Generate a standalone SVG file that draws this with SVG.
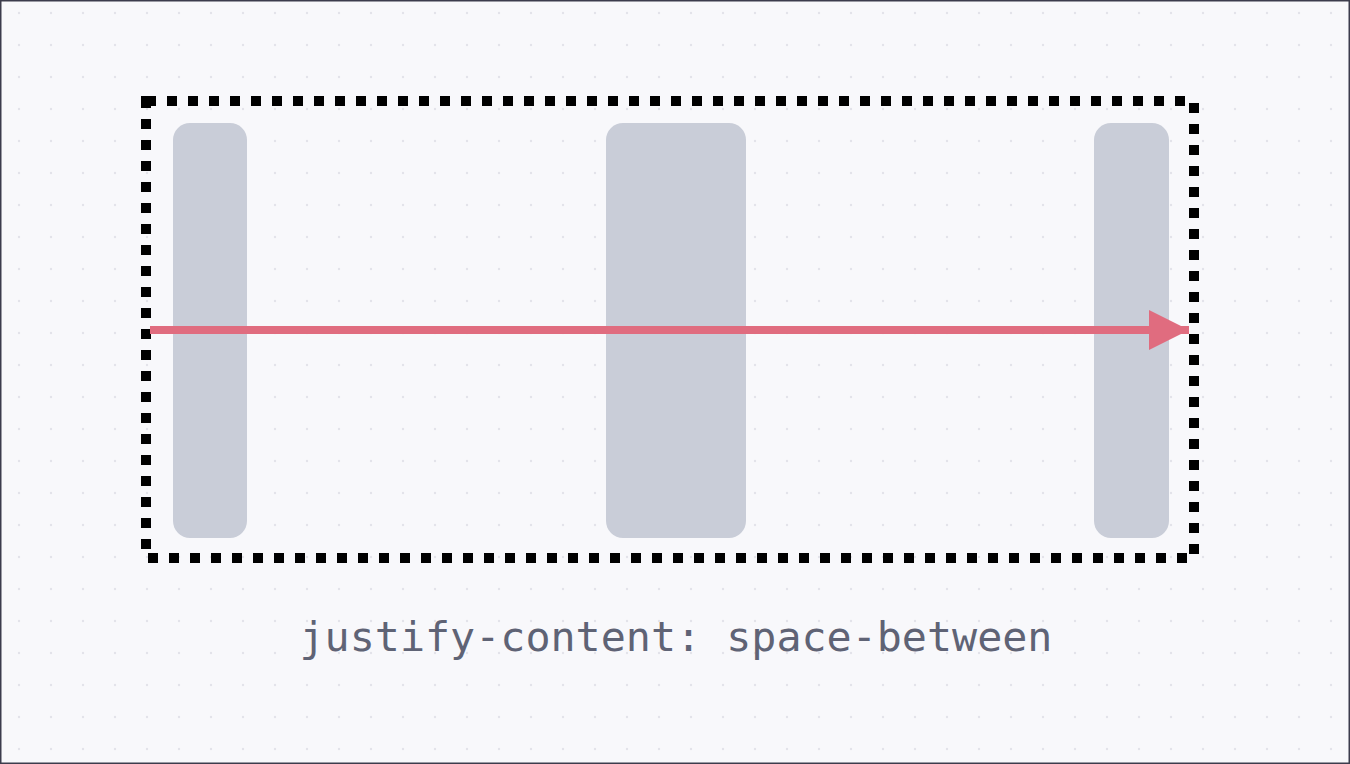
<svg xmlns="http://www.w3.org/2000/svg" width="1350" height="764" viewBox="0 0 1350 764">
  <defs>
    <pattern id="dots" x="3" y="-3" width="32" height="32" patternUnits="userSpaceOnUse">
      <circle cx="16" cy="16" r="1.2" fill="#e3e3ea"/>
    </pattern>
    <marker id="arrowhead" viewBox="0 0 40 40" refX="40" refY="20" markerWidth="40" markerHeight="40" markerUnits="userSpaceOnUse" orient="auto">
      <path d="M0,0 L40,20 L0,40 Z" fill="#e06c7f"/>
    </marker>
  </defs>
  <style>
    .item { fill: #c9cdd8; }
    .container { fill: none; stroke: #000; stroke-width: 10; stroke-dasharray: 10 11; }
    .label { font-family: "DejaVu Sans Mono", "Liberation Mono", monospace; font-size: 41.7px; fill: #5f6375; }
  </style>
  <rect x="0" y="0" width="1350" height="764" fill="#f8f8fb"/>
  <rect x="0" y="0" width="1350" height="764" fill="url(#dots)"/>
  <rect x="0.75" y="0.75" width="1348.5" height="762.5" fill="none" stroke="#3c3c4c" stroke-width="1.5"/>
  <g id="container">
    <path class="container" d="M146,101 L1194,101 L1194,558 L146,558 Z"/>
  </g>
  <g id="item1"><rect class="item" x="173" y="123" width="74" height="415" rx="17"/></g>
  <g id="item2"><rect class="item" x="606" y="123" width="140" height="415" rx="17"/></g>
  <g id="item3"><rect class="item" x="1094" y="123" width="75" height="415" rx="17"/></g>
  <g id="connectors">
    <line x1="150" y1="330" x2="1189" y2="330" stroke="#e06c7f" stroke-width="8" marker-end="url(#arrowhead)"/>
  </g>
  <g id="caption">
    <text class="label" x="676" y="651" text-anchor="middle">justify-content: space-between</text>
  </g>
</svg>
